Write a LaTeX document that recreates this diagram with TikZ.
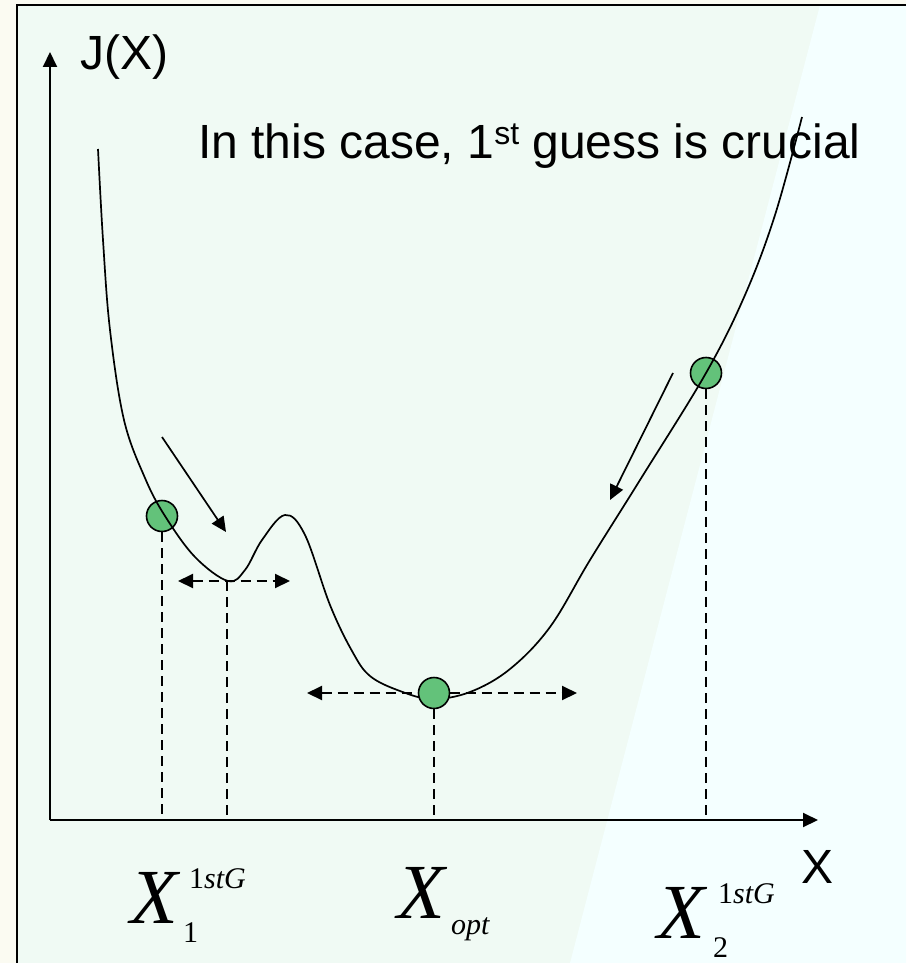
\documentclass[tikz,border=0pt]{standalone}
\usepackage{fontspec}
\setmainfont{Liberation Sans}
\newfontfamily\tnr{Liberation Serif}
\usetikzlibrary{arrows.meta}
\definecolor{cream}{HTML}{FBFBF2}
\definecolor{mint}{HTML}{F0FAF4}
\definecolor{paleblue}{HTML}{F4FFFF}
\definecolor{ball}{HTML}{63C27A}
\newcommand\lblbig{\tnr\itshape\fontsize{78}{78}\selectfont}
\newcommand\lblsmall{\tnr\fontsize{30}{30}\selectfont}
\newcommand\lbltext{\fontsize{48}{48}\selectfont}
\tikzset{
 tip/.tip={Triangle[length=15pt,width=14pt]},
 axisline/.style={line width=2pt, -tip},
 guide/.style={line width=2pt, dash pattern=on 10pt off 6pt},
 guidearrow/.style={guide, tip-tip},
 slide/.style={line width=1.7pt, -tip},
 ballnode/.style={circle, draw=black, line width=1.6pt, fill=ball, minimum size=31pt, inner sep=0pt},
 curveline/.style={line width=1.7pt},
 lbl/.style={inner sep=0pt, anchor=base west},
}
\begin{document}
\begin{tikzpicture}[x=1pt,y=-1pt]
\useasboundingbox (0,0) rectangle (906,963);
\fill[cream] (0,0) rectangle (906,963);
\fill[mint] (17,5) rectangle (906,963);
\fill[paleblue] (820,5) -- (906,5) -- (906,963) -- (570,963) -- cycle;
\draw[line width=2pt] (17,963) -- (17,5) -- (906,5);

% axes
\coordinate (o) at (50,820);
\coordinate (ytop) at (50,52);
\coordinate (xend) at (818,820);
\draw[axisline] (o) -- (ytop);
\draw[axisline] (o) -- (xend);

% texts
\node[lbl, font=\lbltext] (jx) at (80,70) {J(X)};
\node[lbl, font=\lbltext] (note) at (198,158) {In this case, 1\raisebox{14pt}{\fontsize{32}{32}\selectfont st} guess is crucial};
\node[lbl, font=\lbltext] (xl) at (801,883) {X};

% balls (behind curve)
\node[ballnode] (c1) at (162,516) {};
\node[ballnode] (c2) at (706,373) {};

% local minimum and guides
\coordinate (m1) at (227,581);
\coordinate (h1l) at (178,581);
\coordinate (h1r) at (290,581);
\coordinate (hol) at (307,693);
\coordinate (hor) at (577,693);
\coordinate (copos) at (434,693);
\draw[guide] (c1.south) -- (c1 |- o);
\draw[guide] (m1) -- (m1 |- o);
\draw[guide] (copos) -- (copos |- o);
\draw[guide] (c2.south) -- (c2 |- o);
\draw[guidearrow] (h1l) -- (h1r);
\draw[guidearrow] (hol) -- (hor);

% sliding arrows
\coordinate (a1s) at (162,437);
\coordinate (a1e) at (226,532);
\coordinate (a2s) at (673,373);
\coordinate (a2e) at (610,500);
\draw[slide] (a1s) -- (a1e);
\draw[slide] (a2s) -- (a2e);

% curve
\draw[curveline] plot[smooth, tension=0.6] coordinates {
 (98,149) (103,240) (110,330) (124,420) (145,478) (165,516)
 (195,557) (228,581) (245,570) (262,540)
 (285,515) (305,535) (330,605) (352,651) (370,676)
 (400,691) (432,699) (470,692) (510,669) (550,627)
 (590,560) (640,480) (706,373) (745,295) (775,215) (802,117)};

% optimum ball (in front of curve)
\node[ballnode] (copt) at (copos) {};

% math labels
\node[lbl, font=\lblbig] (x1) at (130,923) {X};
\node[lbl, font=\lblsmall] (x1sup) at (189,888) {1\textit{stG}};
\node[lbl, font=\lblsmall] (x1sub) at (183,942) {1};
\node[lbl, font=\lblbig] (xo) at (397,918) {X};
\node[lbl, font=\lblsmall] (xosub) at (451,934) {\textit{opt}};
\node[lbl, font=\lblbig] (x2) at (657,938) {X};
\node[lbl, font=\lblsmall] (x2sup) at (718,903) {1\textit{stG}};
\node[lbl, font=\lblsmall] (x2sub) at (713,957) {2};
\end{tikzpicture}
\end{document}
